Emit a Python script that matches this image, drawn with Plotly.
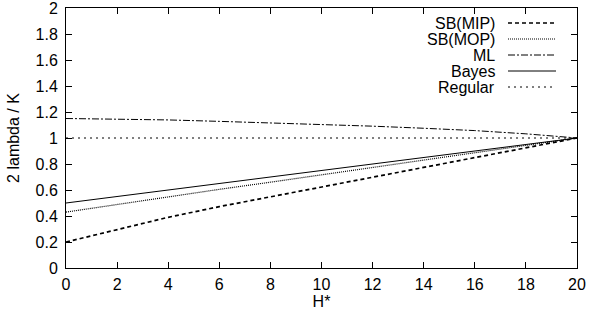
import plotly.graph_objects as go

H = [0, 2, 4, 6, 8, 10, 12, 14, 16, 18, 20]
sb_mip = [0.20, 0.297, 0.390, 0.472, 0.548, 0.625, 0.700, 0.773, 0.849, 0.925, 1.0]
sb_mop = [0.43, 0.49, 0.548, 0.605, 0.66, 0.716, 0.772, 0.829, 0.886, 0.943, 1.0]
ml = [1.150, 1.147, 1.139, 1.128, 1.117, 1.105, 1.091, 1.075, 1.057, 1.032, 1.0]
bayes = [0.50, 0.55, 0.60, 0.65, 0.70, 0.75, 0.80, 0.85, 0.90, 0.95, 1.0]
regular = [1.0] * 11

x_ticks = [0, 2, 4, 6, 8, 10, 12, 14, 16, 18, 20]
y_ticks = [0, 0.2, 0.4, 0.6, 0.8, 1, 1.2, 1.4, 1.6, 1.8, 2]
y_tick_text = ["0", "0.2", "0.4", "0.6", "0.8", "1", "1.2", "1.4", "1.6", "1.8", "2"]

series = [
    ("SB(MIP)", sb_mip, "4px,3px", 1.7),
    ("SB(MOP)", sb_mop, "1px,1px", 1.2),
    ("ML", ml, "7px,2px,2px,2px", 1.0),
    ("Bayes", bayes, "solid", 1.0),
    ("Regular", regular, "2px,4px", 1.0),
]

FONT = "Liberation Sans, Arial, sans-serif"
FS = 16
fig = go.Figure()
for name, vals, dash, w in series:
    fig.add_trace(go.Scatter(x=H, y=vals, mode="lines", name=name,
                             line=dict(color="black", width=w, dash=dash),
                             showlegend=False))

# gnuplot-style key: text right-aligned, sample line to its right
L, R, T, B = 66, 12, 8, 54
pw, ph = 589 - L - R, 322 - T - B
row_y = 23
for name, vals, dash, w in series:
    yp = (322 - B - row_y) / ph
    fig.add_annotation(x=(497 - L) / pw, y=yp, xref="paper", yref="paper",
                       text=name, showarrow=False, xanchor="right", yanchor="middle",
                       font=dict(family=FONT, size=FS, color="black"))
    fig.add_shape(type="line", xref="paper", yref="paper",
                  x0=(508 - L) / pw, x1=(556 - L) / pw, y0=yp, y1=yp,
                  line=dict(color="black", width=w, dash=dash))
    row_y += 16

axis_common = dict(showline=True, linecolor="black", linewidth=1, mirror="ticks",
                   ticks="inside", ticklen=6, tickcolor="black", tickwidth=1,
                   showgrid=False, zeroline=False, ticklabeloverflow="allow",
                   tickfont=dict(family=FONT, size=FS, color="black"))
fig.update_xaxes(range=[0, 20], tickvals=x_ticks, ticklabelstandoff=2,
                 title=dict(text="H*", font=dict(family=FONT, size=FS, color="black"), standoff=2),
                 **axis_common)
fig.update_yaxes(range=[0, 2], tickvals=y_ticks, ticktext=y_tick_text, ticklabelstandoff=4,
                 title=dict(text="2 lambda / K", font=dict(family=FONT, size=FS, color="black"), standoff=11),
                 **axis_common)
fig.update_layout(width=589, height=322, margin=dict(l=L, r=R, t=T, b=B, autoexpand=False),
                  plot_bgcolor="white", paper_bgcolor="white",
                  font=dict(family=FONT, size=FS, color="black"))
fig.write_html("out.html", config={"displayModeBar": False},
               post_script="document.body.style.margin='0px';")
